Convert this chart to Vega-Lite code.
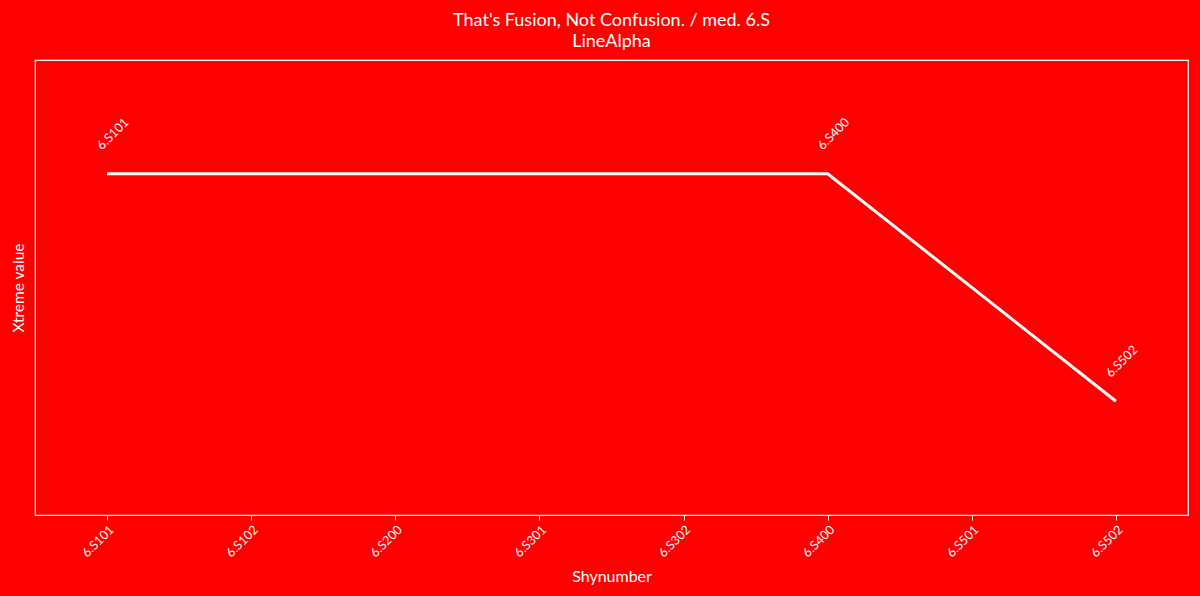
{
  "$schema": "https://vega.github.io/schema/vega-lite/v6.json",
  "width": 1153,
  "height": 455,
  "autosize": {"type": "none"},
  "padding": {"left": 35, "top": 60, "right": 12, "bottom": 81},
  "background": "#ff0000",
  "title": {
    "text": ["That's Fusion, Not Confusion. / med. 6.S", "LineAlpha"],
    "color": "#ffffff",
    "font": "Lato",
    "fontSize": 18,
    "fontWeight": "normal",
    "lineHeight": 21,
    "offset": 9,
    "anchor": "middle"
  },
  "config": {
    "view": {"stroke": "#ffffff", "strokeWidth": 1.2, "fill": "#ff0000"},
    "font": "Lato"
  },
  "data": {
    "values": [
      {"course": "6.S101", "value": 3},
      {"course": "6.S400", "value": 3},
      {"course": "6.S502", "value": 1}
    ]
  },
  "encoding": {
    "x": {
      "field": "course",
      "type": "ordinal",
      "sort": null,
      "scale": {
        "type": "point",
        "padding": 0.5,
        "domain": ["6.S101", "6.S102", "6.S200", "6.S301", "6.S302", "6.S400", "6.S501", "6.S502"]
      },
      "axis": {
        "title": "Shynumber",
        "titleColor": "#ffffff",
        "titleFont": "Lato",
        "titleFontSize": 16,
        "titleFontWeight": "normal",
        "titlePadding": 9,
        "labelAngle": -45,
        "labelAlign": "right",
        "labelBaseline": "top",
        "labelColor": "#ffffff",
        "labelFont": "Lato",
        "labelFontSize": 12.5,
        "labelPadding": 3,
        "domain": false,
        "tickColor": "#ffffff",
        "tickSize": 5,
        "grid": false
      }
    },
    "y": {
      "field": "value",
      "type": "quantitative",
      "scale": {"domain": [0, 4]},
      "axis": {
        "title": "Xtreme value",
        "titleColor": "#ffffff",
        "titleFont": "Lato",
        "titleFontSize": 15.5,
        "titleFontWeight": "normal",
        "titlePadding": 9,
        "labels": false,
        "ticks": false,
        "domain": false,
        "grid": false
      }
    }
  },
  "layer": [
    {
      "mark": {"type": "line", "color": "#ffffff", "strokeWidth": 3}
    },
    {
      "mark": {
        "type": "text",
        "color": "#ffffff",
        "font": "Lato",
        "fontSize": 12.5,
        "angle": -45,
        "align": "left",
        "baseline": "alphabetic",
        "dx": 13,
        "dy": -20
      },
      "encoding": {"text": {"field": "course"}}
    }
  ]
}
